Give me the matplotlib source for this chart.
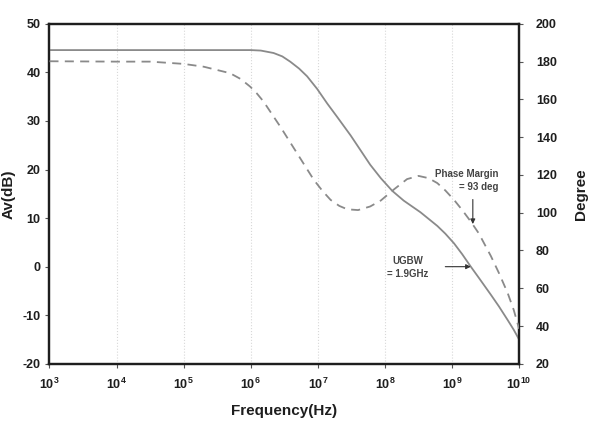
import matplotlib as mpl; mpl.use("Agg")
import matplotlib.pyplot as plt
import numpy as np

mpl.rcParams.update({
    "font.family": "sans-serif",
    "font.sans-serif": ["Liberation Sans", "DejaVu Sans"],
    "font.weight": "bold",
    "axes.unicode_minus": False,
    "mathtext.fontset": "custom",
    "mathtext.bf": "Liberation Sans:bold",
    "mathtext.rm": "Liberation Sans:bold",
})
INK = "#1e1e1e"
CURVE = "#8a8a8a"

# ── data (frequency as log10 Hz) ──────────────────────────────────────────────
gain_logf = [3.0, 5.0, 6.0, 6.15, 6.34, 6.47, 6.59, 6.72, 6.84, 6.99, 7.14,
             7.29, 7.49, 7.64, 7.78, 7.94, 8.11, 8.28, 8.53, 8.78, 8.9, 9.03,
             9.15, 9.28, 9.4, 9.58, 9.7, 9.83, 9.92, 10.0]
gain_db = [44.6, 44.6, 44.6, 44.5, 44.0, 43.3, 42.2, 40.8, 39.2, 36.6, 33.6,
           30.8, 27.0, 23.9, 21.0, 18.2, 15.6, 13.6, 11.2, 8.4, 6.8, 4.8,
           2.6, 0.0, -2.3, -5.8, -8.2, -11.0, -13.0, -15.0]

phase_logf = [3.0, 4.0, 4.5, 5.0, 5.3, 5.69, 5.85, 5.99, 6.09, 6.19, 6.44,
              6.69, 6.94, 7.07, 7.19, 7.32, 7.44, 7.6, 7.78, 7.94, 8.14, 8.33,
              8.5, 8.65, 8.78, 8.9, 9.03, 9.15, 9.28, 9.4, 9.58, 9.7, 9.83,
              9.92, 10.0]
phase_deg = [180.2, 180.0, 180.0, 178.8, 177.3, 173.9, 170.8, 166.8, 163.2,
             158.9, 145.6, 131.5, 117.4, 111.5, 106.8, 103.6, 101.8, 101.4,
             103.3, 106.5, 112.5, 117.8, 119.5, 118.3, 115.7, 111.8, 106.8,
             101.5, 95.3, 89.0, 77.0, 68.0, 57.4, 48.5, 38.5]

decades = [3, 4, 5, 6, 7, 8, 9, 10]
db_ticks = [-20, -10, 0, 10, 20, 30, 40, 50]
deg_ticks = [20, 40, 60, 80, 100, 120, 140, 160, 180, 200]

ugbw_logf = 9.28
pm_deg = 94.0

# ── figure ────────────────────────────────────────────────────────────────────
fig = plt.figure(figsize=(5.96, 4.26), dpi=100)
ax = fig.add_axes([0.083, 0.146, 0.788, 0.798])
ax2 = ax.twinx()

ax.plot(10.0 ** np.array(gain_logf), gain_db, color=CURVE, lw=1.3, zorder=3)
ax2.plot(10.0 ** np.array(phase_logf), phase_deg, color=CURVE, lw=1.3,
         dashes=(5, 3.5), zorder=3)

ax.set_xscale("log")
ax.set_xlim(1e3, 1e10)
ax.set_ylim(-20, 50)
ax2.set_ylim(20, 200)

ax.set_xticks([10.0 ** e for e in decades])
ax.set_xticklabels([r"$\mathbf{10^{%d}}$" % e for e in decades])
ax.xaxis.set_minor_locator(mpl.ticker.NullLocator())
ax.set_yticks(db_ticks)
ax2.set_yticks(deg_ticks)

for a in (ax, ax2):
    for s in a.spines.values():
        s.set_linewidth(1.6)
        s.set_color(INK)
    a.tick_params(direction="out", length=3, width=0.8, color="#555555",
                  labelsize=9, labelcolor=INK)
ax.tick_params(axis="x", pad=6)
ax2.tick_params(axis="y", pad=9)

# vertical dotted decade grid
for e in decades[1:-1]:
    ax.axvline(10.0 ** e, color="#d8d8d8", lw=0.8, ls=":", zorder=1)

ax.set_xlabel("Frequency(Hz)", fontsize=11, fontweight="bold", color=INK,
              labelpad=9)
ax.set_ylabel("Av(dB)", fontsize=11, fontweight="bold", color=INK, labelpad=5)
ax2.set_ylabel("Degree", fontsize=11, fontweight="bold", color=INK, labelpad=12)

# annotations
arrow = dict(arrowstyle="-|>", color="#333333", lw=0.8, mutation_scale=7,
             shrinkA=0, shrinkB=0)
ax2.text(10.0 ** 9.69, 117.0, "Phase Margin\n= 93 deg", ha="right",
         va="center", multialignment="right", fontsize=7, color="#444444",
         linespacing=1.3)
ax2.annotate("", xy=(10.0 ** 9.31, pm_deg), xytext=(10.0 ** 9.31, 107.0),
             arrowprops=arrow)

ax.text(10.0 ** 8.34, -0.2, "UGBW\n= 1.9GHz", ha="center", va="center",
        multialignment="center", fontsize=7, color="#444444", linespacing=1.3)
ax.annotate("", xy=(10.0 ** ugbw_logf, 0.0), xytext=(10.0 ** 8.9, 0.0),
            arrowprops=arrow)

fig.savefig("out.png", dpi=100, facecolor="white")
